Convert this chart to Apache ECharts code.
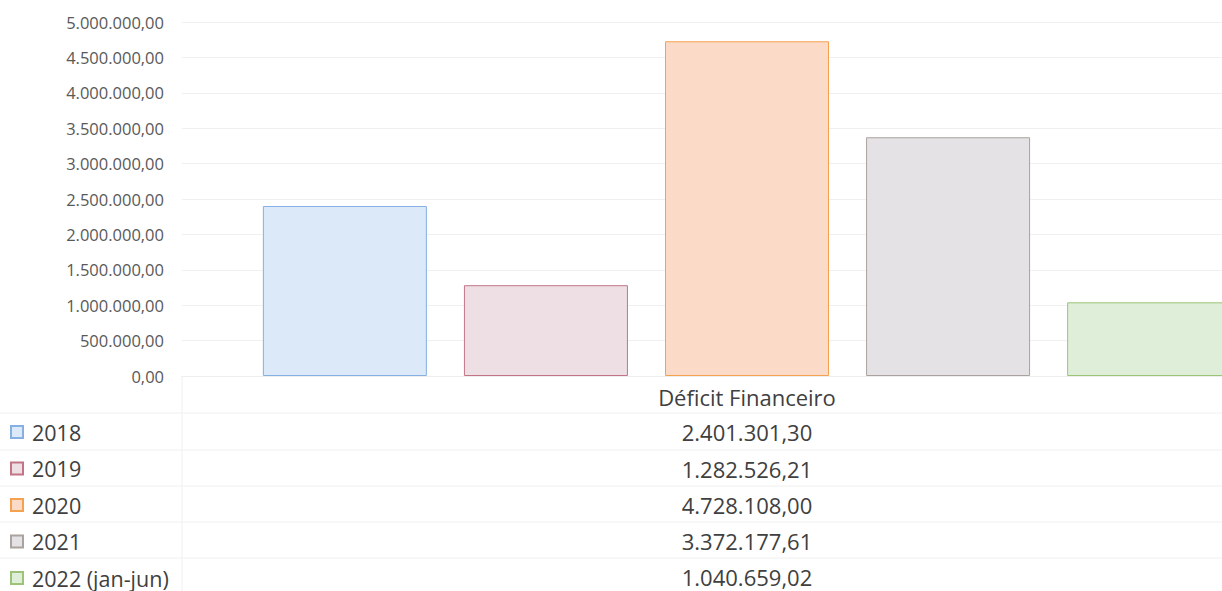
<!DOCTYPE html>
<html>
<head>
<meta charset="utf-8">
<script src="https://cdn.jsdelivr.net/npm/echarts@6/dist/echarts.min.js"></script>
<style>
  html, body { margin: 0; padding: 0; background: #fff; overflow: hidden; }
  /* the plot area runs past the right edge of the picture, as in the original */
  #chart { width: 1312px; height: 591px; }
</style>
</head>
<body>
<div id="chart"></div>
<script>
const categories = ['Déficit Financeiro']
const seriesNames = ['2018', '2019', '2020', '2021', '2022 (jan-jun)']
const values = [2401301.30, 1282526.21, 4728108.00, 3372177.61, 1040659.02]
const fillColors = ['#dce9f8', '#eedfe5', '#fcdac8', '#e4e2e5', '#dfeed9']
const borderColors = ['#86b0e4', '#c27487', '#f5a250', '#aaa29e', '#9cc377']
const yMin = 0
const yMax = 5000000
const yStep = 500000

// formato brasileiro: 1.234.567,89
function fmtBR(v) {
  const parts = v.toFixed(2).split('.')
  const int = parts[0].replace(/\B(?=(\d{3})+(?!\d))/g, '.')
  return int + ',' + parts[1]
}

const font = '"Open Sans", "Liberation Sans", sans-serif'
const chart = echarts.init(document.getElementById('chart'), null, { renderer: 'svg' })

const option = {
  animation: false,
  textStyle: { fontFamily: font },
  grid: { left: 182, right: 0, top: 22, bottom: 215 },
  legend: {
    orient: 'vertical',
    left: 5,
    top: 416,
    height: 300,
    itemWidth: 12,
    itemHeight: 12,
    itemGap: 14.5,
    icon: 'rect',
    data: seriesNames,
    textStyle: { fontSize: 21.5, color: '#404040', fontFamily: font, lineHeight: 22, padding: [0, 0, 0, 4] }
  },
  xAxis: {
    type: 'category',
    data: categories,
    axisLine: { lineStyle: { color: '#eeeeee' } },
    axisTick: { show: false },
    axisLabel: { fontSize: 22, color: '#404040', margin: 10 }
  },
  yAxis: {
    type: 'value',
    min: yMin,
    max: yMax,
    interval: yStep,
    axisLine: { show: false },
    axisTick: { show: false },
    axisLabel: { fontSize: 16.5, color: '#595959', margin: 18, formatter: v => fmtBR(v) },
    splitLine: { lineStyle: { color: '#f0f0f0' } }
  },
  series: seriesNames.map((name, i) => ({
    name: name,
    type: 'bar',
    data: [values[i]],
    barWidth: 164,
    barGap: '22.6%',
    itemStyle: { color: fillColors[i], borderColor: borderColors[i], borderWidth: 1 }
  }))
}

chart.setOption(option)

// tabela de dados abaixo do gráfico
const cx = chart.convertToPixel({ xAxisIndex: 0 }, categories[0])
const rowY = [432, 469, 505, 541, 577]
const graphics = []
rowY.forEach((y, i) => {
  graphics.push({
    type: 'line',
    silent: true,
    shape: { x1: 0, y1: y - 19, x2: 1312, y2: y - 19 },
    style: { stroke: '#f0f0f0', lineWidth: 1 }
  })
  graphics.push({
    type: 'text',
    x: cx,
    y: y,
    style: {
      text: fmtBR(values[i]),
      fontSize: 22,
      lineHeight: 20,
      fontFamily: font,
      fill: '#404040',
      align: 'center',
      verticalAlign: 'middle'
    }
  })
})
graphics.push({
  type: 'line',
  silent: true,
  shape: { x1: 182, y1: 376, x2: 182, y2: 591 },
  style: { stroke: '#f0f0f0', lineWidth: 1 }
})
chart.setOption({ graphic: graphics })
</script>
</body>
</html>
